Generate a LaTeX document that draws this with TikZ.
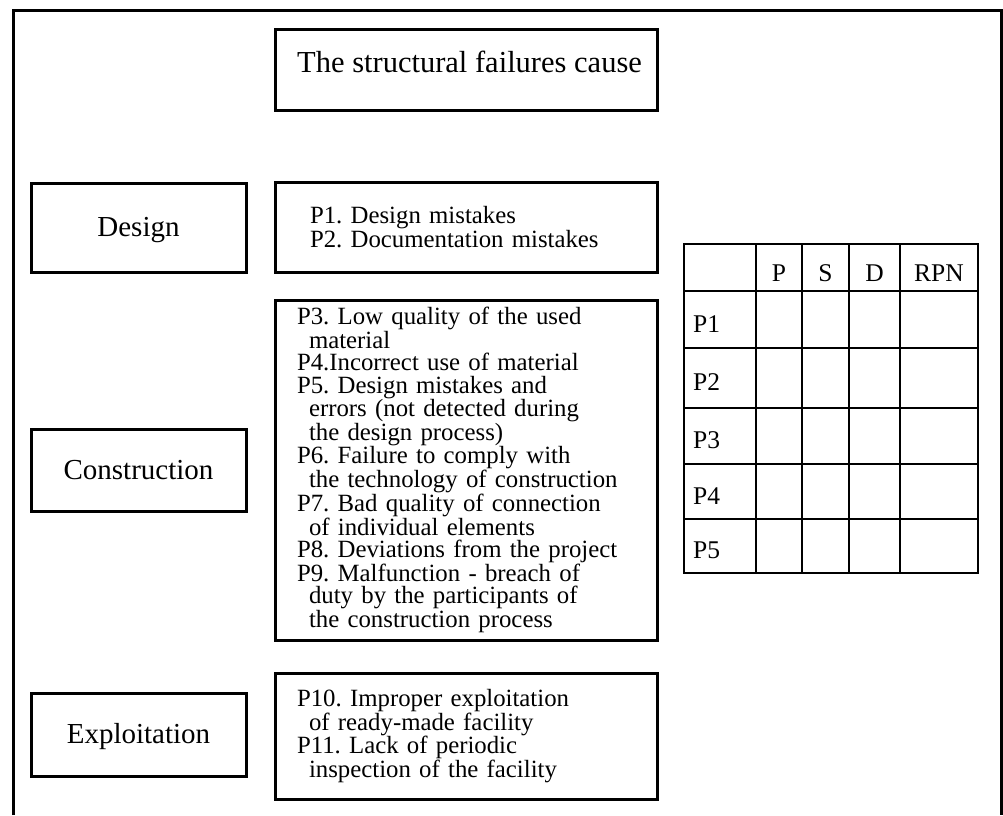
\documentclass[tikz,border=0pt]{standalone}
\usepackage{fontspec}
\setmainfont{Liberation Serif}
\frenchspacing
\begin{document}
\begin{tikzpicture}[x=1pt,y=-1pt,
  frameline/.style={line width=3pt},
  box/.style={draw, line width=3pt, inner sep=0pt},
  lblbox/.style={box, minimum width=215, minimum height=#1,
    font=\fontsize{29}{29}\selectfont, text height=18pt, text depth=0pt},
  listbox/.style={box, minimum width=382, minimum height=#1,
    font=\fontsize{24.8}{22.4}\selectfont, align=left},
  grid/.style={line width=2.5pt},
  cell/.style={font=\fontsize{25.5}{25.5}\selectfont, text height=17pt, text depth=0pt, inner sep=0pt}
]
\useasboundingbox (0,0) rectangle (1003,815);
% outer frame, open at the bottom
\coordinate (fbl) at (13,815);
\coordinate (ftl) at (13,10);
\coordinate (ftr) at (1001,10);
\coordinate (fbr) at (1001,815);
\draw[frameline] (fbl) -- (ftl) -- (ftr) -- (fbr);

% title
\node[box, minimum width=382, minimum height=81] (title) at (466,69.5) {};
\node[anchor=base west, inner sep=0pt, font=\fontsize{30.5}{30.5}\selectfont] (titletext) at (297,72) {The structural failures cause};

% left label boxes
\node[lblbox=89] (design) at (138.5,227.5) {Design};
\node[lblbox=82] (construction) at (138.5,470) {Construction};
\node[lblbox=83] (exploitation) at (138.5,734.5) {Exploitation};

% right list boxes
\node[listbox=90, text width=312] (p12) at (466,227) {P1. Design mistakes\\P2. Documentation mistakes};
\node[listbox=340, text width=338] (p39) at (466,470) {P3. Low quality of the used\\
\hspace*{12pt}material\\
P4.Incorrect use of material\\
P5. Design mistakes and\\
\hspace*{12pt}errors (not detected during\\
\hspace*{12pt}the design process)\\
P6. Failure to comply with\\
\hspace*{12pt}the technology of construction\\
P7. Bad quality of connection\\
\hspace*{12pt}of individual elements\\
P8. Deviations from the project\\
P9. Malfunction - breach of\\
\hspace*{12pt}duty by the participants of\\
\hspace*{12pt}the construction process};
\node[listbox=126, text width=338] (p1011) at (466,736) {P10. Improper exploitation\\
\hspace*{12pt}of ready-made facility\\
P11. Lack of periodic\\
\hspace*{12pt}inspection of the facility};

% table
\draw[grid] (684,244) rectangle (978,573);
\foreach \xx in {756,802,849,900} \draw[grid] (\xx,244) -- (\xx,573);
\foreach \yy in {291,348,408,464,519} \draw[grid] (684,\yy) -- (978,\yy);
\node[cell] (hP) at (779,272.5) {P};
\node[cell] (hS) at (825.5,272.5) {S};
\node[cell] (hD) at (874.5,272.5) {D};
\node[cell] (hR) at (939,272.5) {RPN};
\node[cell, anchor=west] (r1) at (693,323.5) {P1};
\node[cell, anchor=west] (r2) at (693,382) {P2};
\node[cell, anchor=west] (r3) at (693,440) {P3};
\node[cell, anchor=west] (r4) at (693,495.5) {P4};
\node[cell, anchor=west] (r5) at (693,550) {P5};
\end{tikzpicture}
\end{document}
